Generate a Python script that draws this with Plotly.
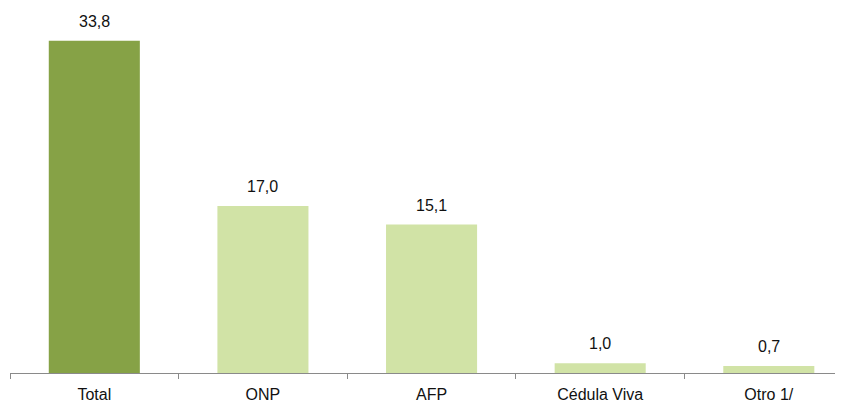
import plotly.graph_objects as go

categories = ["Total", "ONP", "AFP", "Cédula Viva", "Otro 1/"]
values = [33.8, 17.0, 15.1, 1.0, 0.7]
labels = ["33,8", "17,0", "15,1", "1,0", "0,7"]
colors = ["#86A246", "#D1E3A6", "#D1E3A6", "#D1E3A6", "#D1E3A6"]

fig = go.Figure()
fig.add_trace(go.Bar(
    x=categories, y=values,
    marker=dict(color=colors, line=dict(width=0)),
    width=0.54,
    hoverinfo="skip",
))
for c, v, t in zip(categories, values, labels):
    fig.add_annotation(x=c, y=v, text=t, showarrow=False, yanchor="bottom",
                       yshift=9, font=dict(family="Liberation Sans, Arial", size=16, color="#111111"))

fig.update_layout(
    width=835, height=399,
    margin=dict(l=2, r=0, t=0, b=34),
    paper_bgcolor="white", plot_bgcolor="white",
    showlegend=False,
    font=dict(family="Liberation Sans, Arial", size=16, color="#111111"),
    xaxis=dict(
        type="category", range=[-0.5, 4.44],
        showline=True, linecolor="#8a8a8a", linewidth=1,
        ticks="outside", tickson="boundaries", ticklen=5, tickcolor="#8a8a8a",
        ticklabelstandoff=7,
        showgrid=False, zeroline=False,
        tickfont=dict(family="Liberation Sans, Arial", size=16, color="#111111"),
    ),
    yaxis=dict(range=[0, 37.13], visible=False, showgrid=False, zeroline=False),
)

fig.write_html("out.html")
